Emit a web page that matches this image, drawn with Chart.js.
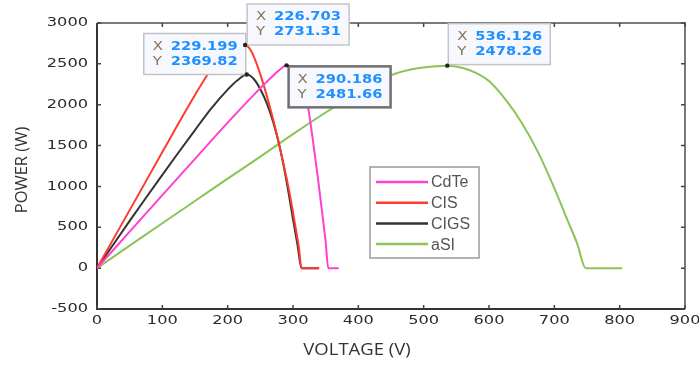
<!DOCTYPE html>
<html><head><meta charset="utf-8">
<script src="https://cdn.jsdelivr.net/npm/chart.js@4.4.1/dist/chart.umd.min.js"></script>
<style>html,body{margin:0;padding:0;background:#fff;} #wrap{width:699px;height:365px;}</style>
</head><body><div id="wrap"><canvas id="c" width="699" height="365"></canvas></div>
<script>
// ---- data ----
const seriesNames = ['CdTe', 'CIS', 'CIGS', 'aSI'];
const seriesColors = ['#ff40cf', '#ff3a2e', '#333333', '#8cc356'];

const cdteV = [0, 50, 100, 150, 200, 240, 265, 280, 290.186, 300, 310, 318, 323, 330, 338, 346, 350, 354, 370];
const cdteP = [0, 447, 893, 1338, 1780, 2120, 2320, 2430, 2481.66, 2440, 2320, 2120, 1974, 1590, 1110, 590, 320, 0, 0];

const cisV = [0, 25, 50, 75, 100, 125, 150, 175, 190, 205, 215, 226.703, 235, 244, 254, 264, 274, 284, 294, 303, 309, 313, 340];
const cisP = [0, 355, 710, 1065, 1420, 1775, 2120, 2440, 2600, 2690, 2722, 2731.31, 2670, 2510, 2270, 1990, 1680, 1330, 950, 540, 250, 0, 0];

const cigsV = [0, 25, 50, 75, 100, 125, 150, 175, 200, 215, 229.199, 240, 250, 260, 270, 280, 290, 300, 307, 313, 340];
const cigsP = [0, 290, 578, 862, 1142, 1418, 1690, 1955, 2185, 2300, 2369.82, 2315, 2190, 2015, 1780, 1470, 1070, 600, 280, 0, 0];

const asiV = [0, 50, 100, 150, 200, 250, 300, 350, 400, 450, 490, 536.126, 560, 580, 600, 626, 650, 675, 700, 720, 735, 748, 804];
const asiP = [0, 275, 550, 822, 1095, 1365, 1640, 1905, 2150, 2360, 2445, 2478.26, 2450, 2390, 2290, 2056, 1780, 1420, 980, 590, 300, 0, 0];

const xTicks = [0, 100, 200, 300, 400, 500, 600, 700, 800, 900];
const yTicks = [-500, 0, 500, 1000, 1500, 2000, 2500, 3000];
const xTitle = 'VOLTAGE (V)';
const yTitle = 'POWER (W)';

// data tips: series index, X and Y shown
const tipSeries = [2, 1, 0, 3];
const tipX = [229.199, 226.703, 290.186, 536.126];
const tipY = [2369.82, 2731.31, 2481.66, 2478.26];

// ---- build ----
const seriesV = [cdteV, cisV, cigsV, asiV];
const seriesP = [cdteP, cisP, cigsP, asiP];
const datasets = seriesNames.map((n, i) => ({
  label: n,
  data: seriesV[i].map((v, k) => ({x: v, y: seriesP[i][k]})),
  borderColor: seriesColors[i],
  backgroundColor: seriesColors[i],
  borderWidth: 2,
  pointRadius: 0,
  showLine: true,
  cubicInterpolationMode: 'monotone',
  fill: false
}));

const tipStyle = [
  {dx: -103, dy: -41, border: '#c4c4c4', bw: 1.5},
  {dx: 2, dy: -41, border: '#c4c4c4', bw: 1.5},
  {dx: 2, dy: 1, border: '#6f6f6f', bw: 2.5},
  {dx: 1, dy: -42, border: '#c4c4c4', bw: 1.5}
];

function stretchText(ctx, text, x, y, align, sx) {
  ctx.save();
  ctx.translate(x, y);
  ctx.scale(sx, 1);
  ctx.textAlign = align;
  ctx.fillText(text, 0, 0);
  ctx.restore();
}

const framePlugin = {
  id: 'frame',
  beforeDatasetsDraw(chart) {
    const {ctx, chartArea: a, scales: {x, y}} = chart;
    ctx.save();
    ctx.lineWidth = 2;
    ctx.strokeStyle = '#7a7a7a';
    ctx.beginPath();
    ctx.moveTo(a.left, a.top); ctx.lineTo(a.right, a.top); ctx.lineTo(a.right, a.bottom);
    ctx.stroke();
    ctx.strokeStyle = '#333';
    ctx.beginPath();
    ctx.moveTo(a.left, a.top); ctx.lineTo(a.left, a.bottom); ctx.lineTo(a.right, a.bottom);
    ctx.stroke();
    ctx.lineWidth = 1.5;
    ctx.strokeStyle = '#444';
    ctx.beginPath();
    xTicks.forEach(t => {
      const px = x.getPixelForValue(t);
      ctx.moveTo(px, a.bottom); ctx.lineTo(px, a.bottom - 4);
      ctx.moveTo(px, a.top); ctx.lineTo(px, a.top + 4);
    });
    yTicks.forEach(t => {
      const py = y.getPixelForValue(t);
      ctx.moveTo(a.left, py); ctx.lineTo(a.left + 4, py);
      ctx.moveTo(a.right, py); ctx.lineTo(a.right - 4, py);
    });
    ctx.stroke();
    ctx.fillStyle = '#2b2b2b';
    ctx.font = '12px "DejaVu Sans", sans-serif';
    ctx.textBaseline = 'middle';
    xTicks.forEach(t => stretchText(ctx, String(t), x.getPixelForValue(t), a.bottom + 12, 'center', 1.35));
    yTicks.forEach(t => stretchText(ctx, String(t), a.left - 9, y.getPixelForValue(t), 'right', 1.35));
    ctx.fillStyle = '#333';
    ctx.font = '16.5px "Open Sans", sans-serif';
    stretchText(ctx, xTitle, 357, a.bottom + 41, 'center', 1.12);
    ctx.save();
    ctx.translate(22, 170);
    ctx.rotate(-Math.PI / 2);
    ctx.textAlign = 'center';
    ctx.fillText(yTitle, 0, 0);
    ctx.restore();
    ctx.restore();
  },
  afterDraw(chart) {
    const {ctx, scales: {x, y}} = chart;
    ctx.save();
    const lx = 370, ly = 167, lw = 109, lh = 91;
    ctx.fillStyle = '#fff';
    ctx.fillRect(lx, ly, lw, lh);
    ctx.strokeStyle = '#9a9a9a';
    ctx.lineWidth = 1.5;
    ctx.strokeRect(lx, ly, lw, lh);
    ctx.font = '16px "Liberation Sans", Arial, sans-serif';
    ctx.textBaseline = 'middle';
    ctx.textAlign = 'left';
    chart.data.datasets.forEach((ds, i) => {
      const cy = ly + 15 + i * 20.7;
      ctx.strokeStyle = ds.borderColor;
      ctx.lineWidth = 2.5;
      ctx.beginPath(); ctx.moveTo(lx + 6, cy); ctx.lineTo(lx + 58, cy); ctx.stroke();
      ctx.fillStyle = '#555';
      ctx.fillText(ds.label, lx + 61, cy + 1);
    });
    tipSeries.forEach((s, i) => {
      const px = x.getPixelForValue(tipX[i]);
      const py = y.getPixelForValue(tipY[i]);
      const st = tipStyle[i];
      const bx = px + st.dx, by = py + st.dy, bw = 102, bh = 41;
      ctx.fillStyle = '#f6f8fe';
      ctx.fillRect(bx, by, bw, bh);
      ctx.strokeStyle = st.border;
      ctx.lineWidth = st.bw;
      ctx.strokeRect(bx, by, bw, bh);
      ctx.textBaseline = 'middle';
      ctx.font = '13px "DejaVu Sans", sans-serif';
      ctx.fillStyle = '#8a7358';
      stretchText(ctx, 'X', bx + 9, by + 13, 'left', 1.15);
      stretchText(ctx, 'Y', bx + 9, by + 28, 'left', 1.15);
      ctx.font = 'bold 13px "DejaVu Sans", sans-serif';
      ctx.fillStyle = '#1e90ff';
      stretchText(ctx, String(tipX[i]), bx + 27, by + 13, 'left', 1.13);
      stretchText(ctx, String(tipY[i]), bx + 27, by + 28, 'left', 1.13);
      ctx.fillStyle = '#222';
      ctx.beginPath(); ctx.arc(px, py, 2.2, 0, Math.PI * 2); ctx.fill();
    });
    ctx.restore();
  }
};

new Chart(document.getElementById('c'), {
  type: 'scatter',
  data: {datasets},
  options: {
    responsive: false,
    animation: false,
    devicePixelRatio: 1,
    layout: {padding: {left: 0, top: 23, right: 14, bottom: 0}},
    plugins: {legend: {display: false}, tooltip: {enabled: false}},
    scales: {
      x: {
        type: 'linear', min: 0, max: 900,
        afterBuildTicks: s => { s.ticks = xTicks.map(v => ({value: v})); },
        afterFit: s => { s.height = 56; },
        grid: {display: false, drawTicks: false},
        border: {display: false},
        ticks: {display: false}
      },
      y: {
        type: 'linear', min: -500, max: 3000,
        afterBuildTicks: s => { s.ticks = yTicks.map(v => ({value: v})); },
        afterFit: s => { s.width = 97; },
        grid: {display: false, drawTicks: false},
        border: {display: false},
        ticks: {display: false}
      }
    }
  },
  plugins: [framePlugin]
});
</script></body></html>
